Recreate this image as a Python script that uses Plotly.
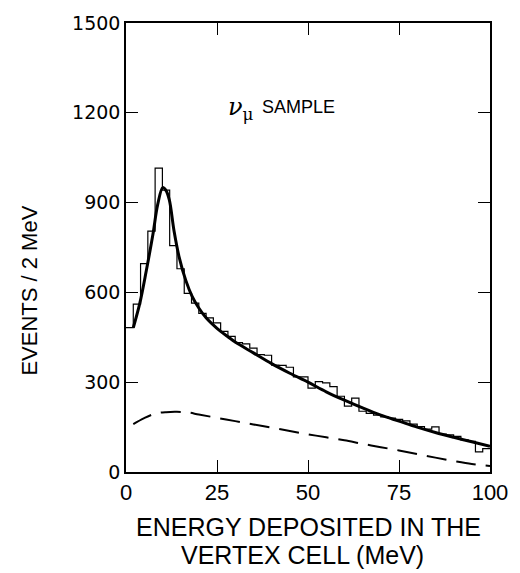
import plotly.graph_objects as go

# ---- data ----
bin_width = 2.0
hist_counts = [482, 561, 696, 805, 1015, 942, 756, 679, 597, 564,
               530, 515, 498, 470, 453, 432, 428, 414, 392, 390,
               357, 356, 350, 318, 318, 280, 302, 298, 285, 253,
               220, 247, 203, 196, 190, 184, 180, 176, 171, 160,
               152, 143, 151, 127, 124, 119, 107, 102, 67, 78]

fit_x = [2.0, 3.8, 5.6, 7.4, 8.7, 10.1, 11.0, 11.9, 13.2, 14.6, 16.4, 18.2, 20,
         22, 25, 28, 30, 35, 40, 45, 50, 55, 60, 65, 70, 75, 80, 85, 90, 95, 100]
fit_y = [482, 564, 674, 794, 893, 950, 940, 909, 805, 718, 641, 586, 548,
         515, 480, 452, 434, 398, 362, 330, 300, 268, 240, 214, 190, 170, 150,
         132, 116, 101, 86]

bkg_x = [2, 5, 8, 11, 14, 17, 20, 25, 30, 35, 40, 45, 50, 55, 60, 65, 70, 75,
         80, 85, 90, 95, 100]
bkg_y = [160, 180, 195, 200, 201, 199, 192, 181, 170, 159, 148, 137, 126, 116,
         106, 94, 83, 72, 60, 48, 37, 27, 20]

x_ticks = [0, 25, 50, 75, 100]
y_ticks = [0, 300, 600, 900, 1200, 1500]

# histogram outline (step)
edges = [i * bin_width for i in range(len(hist_counts) + 1)]
step_y = hist_counts + [hist_counts[-1]]

fig = go.Figure()
fig.add_trace(go.Scatter(x=edges, y=step_y, mode="lines", line_shape="hv",
                         line=dict(color="black", width=1.2), showlegend=False))
fig.add_trace(go.Scatter(x=fit_x, y=fit_y, mode="lines", line_shape="spline",
                         line=dict(color="black", width=3), showlegend=False))
fig.add_trace(go.Scatter(x=bkg_x, y=bkg_y, mode="lines", line_shape="spline",
                         line=dict(color="black", width=2, dash="20px,10px"),
                         showlegend=False))

axis_common = dict(showgrid=False, zeroline=False, showline=True, linecolor="black",
                   linewidth=1.5, ticks="inside", ticklen=12, tickwidth=1.2,
                   tickcolor="black", mirror="ticks")

fig.update_xaxes(range=[0, 100], tickvals=x_ticks, ticktext=[str(v) for v in x_ticks],
                 tickfont=dict(family="Liberation Sans", size=22, color="black"),
                 **axis_common)
fig.update_yaxes(range=[0, 1500], tickvals=y_ticks, ticktext=[str(v) for v in y_ticks],
                 tickfont=dict(family="DejaVu Sans", size=19, color="black"),
                 **axis_common)

ann_font = dict(family="Liberation Sans", color="black")
fig.add_annotation(text="EVENTS / 2 MeV", xref="paper", yref="paper", x=-0.265, y=0.403,
                   textangle=-90, showarrow=False, xanchor="center", yanchor="middle",
                   font=dict(size=22, **ann_font))
fig.add_annotation(text="ENERGY DEPOSITED IN THE", xref="paper", yref="paper",
                   x=0.501, y=-0.1225, showarrow=False, xanchor="center", yanchor="middle",
                   font=dict(size=25, **ann_font))
fig.add_annotation(text="VERTEX CELL (MeV)", xref="paper", yref="paper",
                   x=0.486, y=-0.1840, showarrow=False, xanchor="center", yanchor="middle",
                   font=dict(size=25, **ann_font))
fig.add_annotation(text="<i>ν</i><sub>μ</sub>", xref="paper", yref="paper",
                   x=0.276, y=0.81, showarrow=False, xanchor="left", yanchor="middle",
                   font=dict(size=24, family="DejaVu Serif", color="black"))
fig.add_annotation(text="SAMPLE", xref="paper", yref="paper",
                   x=0.3676, y=0.812, showarrow=False, xanchor="left", yanchor="middle",
                   font=dict(size=18, **ann_font))

fig.update_layout(width=520, height=573, margin=dict(l=126, r=24, t=15, b=101),
                  paper_bgcolor="white", plot_bgcolor="white")

fig.write_html("out.html")
